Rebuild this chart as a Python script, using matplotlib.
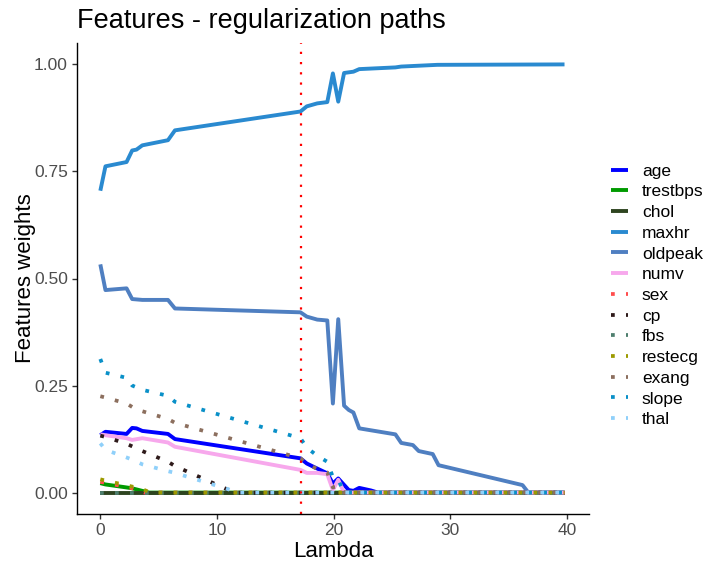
import numpy as np
import matplotlib
matplotlib.use('Agg')
import matplotlib.pyplot as plt

plt.rcParams['font.family'] = ['Liberation Sans', 'DejaVu Sans']

# regularization paths (lambda, weight) per feature
age_lam = [0, 0.44, 2.25, 2.73, 3.1, 3.6, 5.8, 6.4, 17.16, 17.7, 18.3, 19.46, 19.94, 20.4, 20.9, 21.3, 21.7, 22.2, 23.2, 23.8, 39.8]
age_w = [0.134, 0.142, 0.137, 0.151, 0.150, 0.144, 0.137, 0.125, 0.080, 0.068, 0.060, 0.045, 0.021, 0.033, 0.018, 0.006, 0.004, 0.011, 0.005, 0.0, 0.0]

trestbps_lam = [0, 0.44, 2.25, 2.73, 3.6, 4.2, 39.8]
trestbps_w = [0.022, 0.019, 0.012, 0.010, 0.004, 0.0, 0.0]

chol_lam = [0, 39.8]
chol_w = [0.0, 0.0]

maxhr_lam = [0, 0.44, 2.25, 2.73, 3.1, 3.6, 5.8, 6.4, 17.16, 17.7, 18.6, 19.46, 19.94, 20.4, 20.9, 21.7, 22.2, 25.3, 25.8, 28.9, 39.8]
maxhr_w = [0.705, 0.762, 0.772, 0.799, 0.801, 0.811, 0.823, 0.846, 0.890, 0.902, 0.909, 0.912, 0.979, 0.913, 0.980, 0.983, 0.989, 0.993, 0.995, 0.999, 1.0]

oldpeak_lam = [0, 0.44, 2.25, 2.73, 3.6, 5.8, 6.4, 17.16, 17.7, 18.6, 19.46, 19.94, 20.4, 20.9, 21.3, 21.7, 22.2, 25.3, 25.8, 26.8, 27.3, 28.5, 29.0, 36.2, 36.7, 39.8]
oldpeak_w = [0.533, 0.473, 0.477, 0.452, 0.450, 0.450, 0.430, 0.421, 0.411, 0.404, 0.402, 0.208, 0.405, 0.203, 0.193, 0.187, 0.150, 0.136, 0.116, 0.111, 0.097, 0.090, 0.064, 0.0175, 0.0, 0.0]

numv_lam = [0, 0.44, 2.25, 2.73, 3.6, 5.8, 6.4, 17.16, 17.7, 18.6, 19.46, 19.94, 20.4, 20.9, 39.8]
numv_w = [0.136, 0.134, 0.127, 0.123, 0.127, 0.117, 0.107, 0.053, 0.046, 0.046, 0.043, 0.006, 0.030, 0.0, 0.0]

sex_lam = [0, 0.44, 2.25, 2.73, 3.8, 39.8]
sex_w = [0.025, 0.023, 0.013, 0.010, 0.0, 0.0]

cp_lam = [0, 0.44, 2.25, 2.73, 3.6, 5.8, 6.4, 11.5, 39.8]
cp_w = [0.133, 0.130, 0.114, 0.108, 0.097, 0.072, 0.062, 0.0, 0.0]

fbs_lam = [0, 39.8]
fbs_w = [0.0, 0.0]

restecg_lam = [0, 0.44, 2.25, 2.73, 3.6, 4.3, 39.8]
restecg_w = [0.031, 0.028, 0.017, 0.014, 0.008, 0.0, 0.0]

exang_lam = [0, 0.44, 2.25, 2.73, 3.6, 5.8, 6.4, 17.16, 17.7, 18.6, 19.46, 19.94, 20.4, 20.9, 39.8]
exang_w = [0.225, 0.222, 0.208, 0.200, 0.190, 0.172, 0.163, 0.080, 0.068, 0.055, 0.047, 0.012, 0.016, 0.0, 0.0]

slope_lam = [0, 0.44, 2.25, 2.73, 3.6, 5.8, 6.4, 17.16, 17.7, 18.6, 19.46, 19.94, 20.4, 20.9, 39.8]
slope_w = [0.312, 0.280, 0.268, 0.250, 0.240, 0.226, 0.212, 0.127, 0.105, 0.086, 0.072, 0.036, 0.030, 0.0, 0.0]

thal_lam = [0, 0.44, 2.25, 2.73, 3.6, 5.8, 6.4, 11.9, 39.8]
thal_w = [0.115, 0.100, 0.082, 0.077, 0.066, 0.050, 0.046, 0.0, 0.0]

best_lambda = 17.2

features = ['age', 'trestbps', 'chol', 'maxhr', 'oldpeak', 'numv',
            'sex', 'cp', 'fbs', 'restecg', 'exang', 'slope', 'thal']
paths = {'age': (age_lam, age_w), 'trestbps': (trestbps_lam, trestbps_w),
         'chol': (chol_lam, chol_w), 'maxhr': (maxhr_lam, maxhr_w),
         'oldpeak': (oldpeak_lam, oldpeak_w), 'numv': (numv_lam, numv_w),
         'sex': (sex_lam, sex_w), 'cp': (cp_lam, cp_w), 'fbs': (fbs_lam, fbs_w),
         'restecg': (restecg_lam, restecg_w), 'exang': (exang_lam, exang_w),
         'slope': (slope_lam, slope_w), 'thal': (thal_lam, thal_w)}
colors = {'age': '#0000FF', 'trestbps': '#009A00', 'chol': '#2E4420',
          'maxhr': '#2A8AD0', 'oldpeak': '#4F7FC1', 'numv': '#F7A8EC',
          'sex': '#FF4D4D', 'cp': '#2E1A1A', 'fbs': '#4E7F6E',
          'restecg': '#9C9A00', 'exang': '#8C6F5E', 'slope': '#0A90C8',
          'thal': '#8FD0FA'}
solid = ['age', 'trestbps', 'chol', 'maxhr', 'oldpeak', 'numv']

fig = plt.figure(figsize=(7.07, 5.61), dpi=100)
ax = fig.add_axes([77/707., 47/561., 512/707., 471/561.])

for f in features:
    lam, w = paths[f]
    if f in solid:
        ax.plot(lam, w, color=colors[f], lw=2.8, solid_capstyle='butt',
                solid_joinstyle='round', label=f)
    else:
        ax.plot(lam, w, color=colors[f], lw=2.7, dashes=(1, 3),
                dash_capstyle='butt', label=f)

# chosen lambda
ax.axvline(best_lambda, color='#FF0000', lw=1.6, dashes=(1, 3.6))

ax.set_xlim(-2.0, 41.9)
ax.set_ylim(-0.05, 1.05)
ax.set_xticks([0, 10, 20, 30, 40])
ax.set_yticks([0, 0.25, 0.5, 0.75, 1.0])
ax.set_yticklabels(['0.00', '0.25', '0.50', '0.75', '1.00'])
for s in ['top', 'right']:
    ax.spines[s].set_visible(False)
for s in ['left', 'bottom']:
    ax.spines[s].set_linewidth(1.0)
ax.tick_params(length=3.5, width=1.0, color='#333333', labelcolor='#4D4D4D',
               labelsize=12.5, pad=3)

fig.text(77/707., 1 - 28.3/561., 'Features - regularization paths', fontsize=19.5,
         ha='left', va='baseline')
fig.text(333/707., 4/561., 'Lambda', fontsize=16, ha='center', va='baseline')
fig.text(25.5/707., 1 - 278.5/561., 'Features weights', fontsize=16,
         rotation=90, ha='center', va='center')

fig.legend(loc='center left', bbox_to_anchor=(611/707., 1 - 295.4/561.),
           frameon=False, fontsize=12.5, handlelength=0.98, handletextpad=0.8,
           labelspacing=0.32, borderpad=0, borderaxespad=0)

fig.savefig('out.png', dpi=100)
